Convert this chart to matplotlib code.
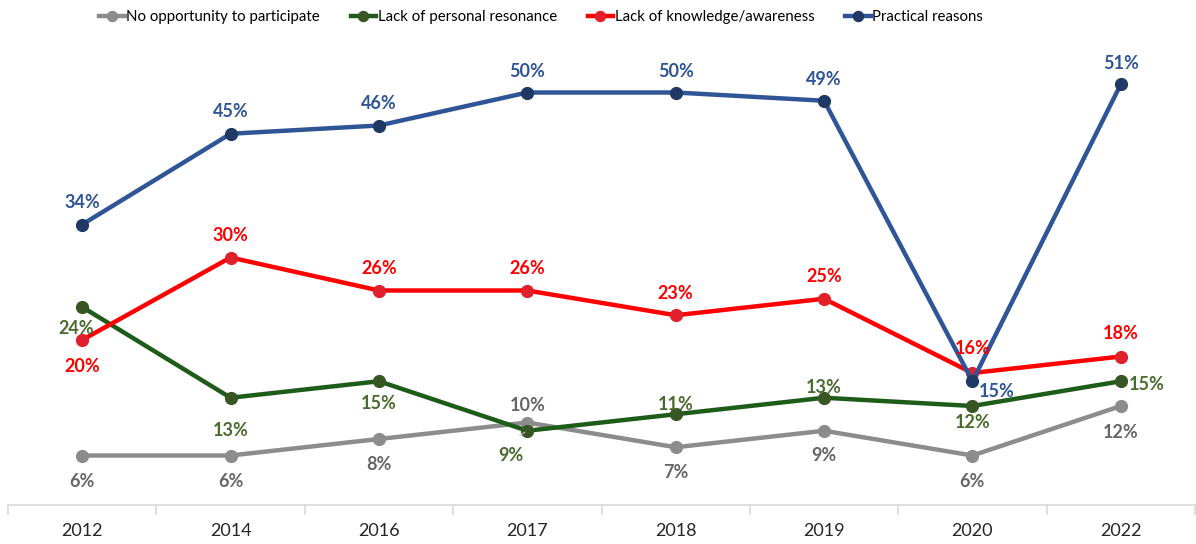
import matplotlib.pyplot as plt
import numpy as np

plt.rcParams['font.family'] = ['Lato', 'DejaVu Sans']

years = ['2012', '2014', '2016', '2017', '2018', '2019', '2020', '2022']
no_opportunity = [6, 6, 8, 10, 7, 9, 6, 12]
personal_resonance = [24, 13, 15, 9, 11, 13, 12, 15]
knowledge_awareness = [20, 30, 26, 26, 23, 25, 16, 18]
practical_reasons = [34, 45, 46, 50, 50, 49, 15, 51]

x = np.arange(len(years))

fig = plt.figure(figsize=(11.96, 5.44), dpi=100)
ax = fig.add_axes([8 / 1196, 1 - 505 / 544, 1187 / 1196, 462 / 544])

series = [
    ('No opportunity to participate', no_opportunity, '#8C8C8C', '#8C8C8C', '#666666'),
    ('Lack of personal resonance', personal_resonance, '#1E5C1A', '#375623', '#4A6B2E'),
    ('Lack of knowledge/awareness', knowledge_awareness, '#FF0000', '#E0202A', '#FF0000'),
    ('Practical reasons', practical_reasons, '#2F5597', '#1F3864', '#2F5597'),
]

# label offsets in pixels (dx, dy) for each point
offsets = {
    'No opportunity to participate': [(0, -26), (0, -26), (0, -26), (0, 17), (0, -25), (0, -25), (0, -26), (0, -26)],
    'Lack of personal resonance': [(-6, -22), (0, -33), (0, -22), (-16, -25), (0, 10), (0, 10), (0, -17), (26, -3)],
    'Lack of knowledge/awareness': [(0, -27), (0, 22), (0, 22), (0, 22), (0, 22), (0, 22), (0, 24), (0, 23)],
    'Practical reasons': [(0, 22), (0, 22), (0, 22), (0, 21), (0, 21), (0, 21), (24, -10), (0, 21)],
}

for name, vals, lc, mc, tc in series:
    ax.plot(x, vals, color=lc, lw=3.2, marker='o', ms=8.5,
            markerfacecolor=mc, markeredgecolor=mc, label=name, zorder=3)
    for i, v in enumerate(vals):
        dx, dy = offsets[name][i]
        ax.annotate(f'{v}%', (x[i], v), xytext=(dx, dy), textcoords='offset pixels',
                    ha='center', va='center', fontsize=13, fontweight='bold',
                    color=tc, zorder=5)

# small leader line for the 9% label in 2017
ax.annotate('', xy=(3, 9), xytext=(-10, -6), textcoords='offset pixels',
            arrowprops=dict(arrowstyle='-', color='#BFBFBF', lw=0.8))

ax.set_xlim(-0.5, len(years) - 0.5)
ax.set_ylim(0, 56)
ax.set_yticks([])
for s in ['top', 'right', 'left']:
    ax.spines[s].set_visible(False)
ax.spines['bottom'].set_color('#D9D9D9')
ax.spines['bottom'].set_linewidth(1.2)

ax.set_xticks(x)
ax.set_xticklabels(years, fontsize=13, color='#262626')
ax.tick_params(axis='x', which='major', length=0, pad=13)
ax.set_xticks(np.arange(-0.5, len(years)), minor=True)
ax.tick_params(axis='x', which='minor', length=7, color='#D9D9D9', width=1.2)

fig.legend(loc='center', bbox_to_anchor=(541 / 1196, 1 - 17 / 544), ncol=4,
           frameon=False, fontsize=10.8, handlelength=1.7, handletextpad=0.1,
           columnspacing=2.05, markerscale=0.85)

fig.savefig('out.png', dpi=100)
